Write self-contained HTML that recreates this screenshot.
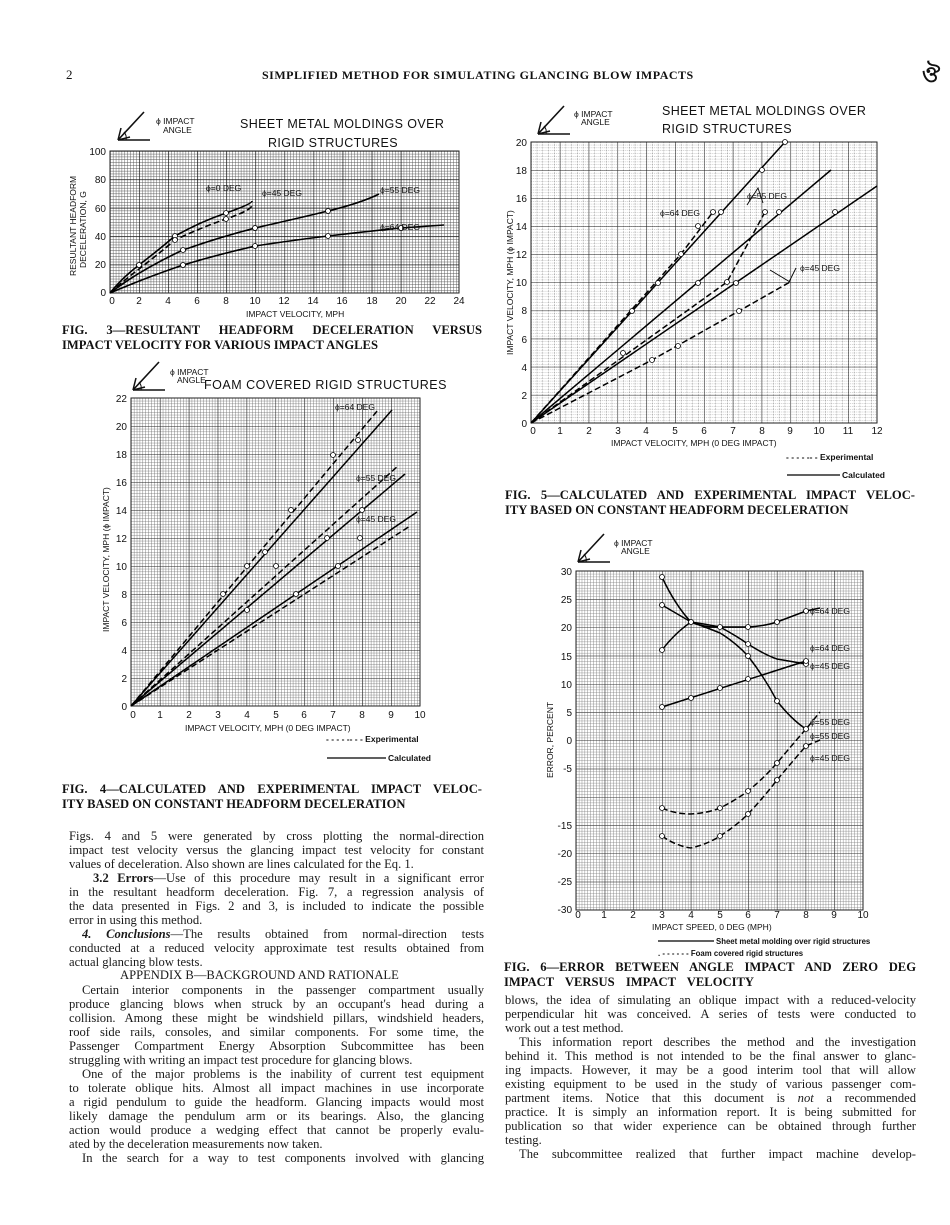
<!DOCTYPE html>
<html><head><meta charset="utf-8">
<style>
html,body{margin:0;padding:0;background:#fff;}
#pg{position:relative;width:950px;height:1225px;overflow:hidden;background:#fff;}
svg{position:absolute;left:0;top:0;}
.t{position:absolute;font-family:"Liberation Serif",serif;font-size:12.6px;line-height:14px;color:#1a1a1a;white-space:nowrap;}
.j{text-align:justify;text-align-last:justify;white-space:normal;height:14px;overflow:hidden;}
.cap{position:absolute;font-family:"Liberation Serif",serif;font-weight:bold;font-size:12.6px;color:#111;white-space:nowrap;text-align:justify;text-align-last:justify;height:15px;}
</style></head><body><div id="pg">
<svg width="950" height="1225" viewBox="0 0 950 1225" font-family="Liberation Sans, sans-serif" fill="#111">
<defs>
<pattern id="p3" x="110" y="151" width="2.908" height="2.84" patternUnits="userSpaceOnUse"><path d="M0 0H2.908M0 0V2.84" stroke="#555" stroke-width="0.9" fill="none"/></pattern>
<pattern id="P3" x="110" y="151" width="29.08" height="28.4" patternUnits="userSpaceOnUse"><path d="M0 0H29.08M0 0V28.4" stroke="#111" stroke-width="1.2" fill="none"/></pattern>
<pattern id="p5" x="531" y="142" width="5.766" height="2.81" patternUnits="userSpaceOnUse"><path d="M0 0H5.766M0 0V2.81" stroke="#777" stroke-width="0.8" stroke-dasharray="1 1" fill="none"/></pattern>
<pattern id="P5" x="531" y="142" width="28.83" height="28.1" patternUnits="userSpaceOnUse"><path d="M0 0H28.83M0 0V28.1" stroke="#222" stroke-width="1.1" fill="none"/></pattern>
<pattern id="p4" x="131" y="398" width="2.89" height="2.8" patternUnits="userSpaceOnUse"><path d="M0 0H2.89M0 0V2.8" stroke="#666" stroke-width="0.8" fill="none"/></pattern>
<pattern id="P4" x="131" y="398" width="28.9" height="28" patternUnits="userSpaceOnUse"><path d="M0 0H28.9M0 0V28" stroke="#222" stroke-width="1.1" fill="none"/></pattern>
<pattern id="p6" x="576" y="571" width="2.87" height="2.825" patternUnits="userSpaceOnUse"><path d="M0 0H2.87M0 0V2.825" stroke="#777" stroke-width="0.8" fill="none"/></pattern>
<pattern id="P6" x="576" y="571" width="28.7" height="28.25" patternUnits="userSpaceOnUse"><path d="M0 0H28.7M0 0V28.25" stroke="#333" stroke-width="1.1" fill="none"/></pattern>
<g id="icon"><path d="M0 30 L32 30 M0 30 L26 2" stroke="#111" stroke-width="1.6" fill="none"/><path d="M0 30 L3 18 M0 30 L12 27" stroke="#111" stroke-width="1.5"/><path d="M8 30 A9 9 0 0 0 6 22" stroke="#111" fill="none"/></g>
</defs>

<text x="66" y="79" font-family="Liberation Serif, serif" font-size="13">2</text>
<text x="262" y="79" font-family="Liberation Serif, serif" font-size="12" font-weight="bold" letter-spacing="0.5">SIMPLIFIED METHOD FOR SIMULATING GLANCING BLOW IMPACTS</text>
<text x="922" y="82" font-size="22" font-weight="bold">ঔ</text>

<!-- FIG 3 -->
<use href="#icon" x="118" y="110"/>
<text x="156" y="124" font-size="8.5">ϕ IMPACT</text><text x="163" y="133" font-size="8.5">ANGLE</text>
<text x="240" y="128" font-size="12.5" letter-spacing="0.4">SHEET METAL MOLDINGS OVER</text>
<text x="268" y="147" font-size="12.5" letter-spacing="0.4">RIGID STRUCTURES</text>
<rect x="110" y="151" width="349" height="142" fill="url(#p3)"/>
<rect x="110" y="151" width="349" height="142" fill="url(#P3)" stroke="#222"/>
<g font-size="10" text-anchor="end"><text x="106" y="155">100</text><text x="106" y="183">80</text><text x="106" y="212">60</text><text x="106" y="240">40</text><text x="106" y="268">20</text><text x="106" y="296">0</text></g>
<g font-size="10" text-anchor="middle"><text x="112" y="304">0</text><text x="139" y="304">2</text><text x="168" y="304">4</text><text x="197" y="304">6</text><text x="226" y="304">8</text><text x="255" y="304">10</text><text x="284" y="304">12</text><text x="313" y="304">14</text><text x="342" y="304">16</text><text x="372" y="304">18</text><text x="401" y="304">20</text><text x="430" y="304">22</text><text x="459" y="304">24</text></g>
<text x="246" y="317" font-size="8.5">IMPACT VELOCITY, MPH</text>
<text transform="translate(76,276) rotate(-90)" font-size="8.5">RESULTANT HEADFORM</text>
<text transform="translate(86,268) rotate(-90)" font-size="8.5">DECELERATION, G</text>
<g fill="none" stroke="#000" stroke-width="1.6">
<path d="M110 293 Q122 278 139 265 T175 236 Q200 222 226 213 T252 201"/>
<path d="M110 293 Q122 282 139 269 T175 240 Q200 228 226 219 T252 205" stroke-dasharray="6 3"/>
<path d="M110 293 Q140 270 183 250 Q220 237 255 228 Q295 219 328 211 T379 194"/>
<path d="M110 293 Q145 278 183 265 Q220 254 255 246 Q295 240 328 236 Q370 231 401 228 L444 225"/>
</g>
<g fill="#fff" stroke="#000" stroke-width="0.8"><circle cx="139" cy="265" r="2.5"/><circle cx="175" cy="236" r="2.5"/><circle cx="226" cy="213" r="2.5"/><circle cx="175" cy="240" r="2.5"/><circle cx="226" cy="219" r="2.5"/><circle cx="255" cy="228" r="2.5"/><circle cx="328" cy="211" r="2.5"/><circle cx="183" cy="250" r="2.5"/><circle cx="183" cy="265" r="2.5"/><circle cx="255" cy="246" r="2.5"/><circle cx="328" cy="236" r="2.5"/><circle cx="401" cy="228" r="2.5"/></g>
<g font-size="8.5"><text x="206" y="191">ϕ=0 DEG</text><text x="262" y="196">ϕ=45 DEG</text><text x="380" y="193">ϕ=55 DEG</text><text x="380" y="230">ϕ=64 DEG</text></g>

<!-- FIG 4 -->
<use href="#icon" x="133" y="360"/>
<text x="170" y="375" font-size="8.5">ϕ IMPACT</text><text x="177" y="383" font-size="8.5">ANGLE</text>
<text x="204" y="389" font-size="12.5" letter-spacing="0.5">FOAM COVERED RIGID STRUCTURES</text>
<rect x="131" y="398" width="289" height="308" fill="url(#p4)"/>
<rect x="131" y="398" width="289" height="308" fill="url(#P4)" stroke="#222"/>
<g font-size="10" text-anchor="end"><text x="127" y="402">22</text><text x="127" y="430">20</text><text x="127" y="458">18</text><text x="127" y="486">16</text><text x="127" y="514">14</text><text x="127" y="542">12</text><text x="127" y="570">10</text><text x="127" y="598">8</text><text x="127" y="626">6</text><text x="127" y="654">4</text><text x="127" y="682">2</text><text x="127" y="710">0</text></g>
<g font-size="10" text-anchor="middle"><text x="133" y="718">0</text><text x="160" y="718">1</text><text x="189" y="718">2</text><text x="218" y="718">3</text><text x="247" y="718">4</text><text x="276" y="718">5</text><text x="304" y="718">6</text><text x="333" y="718">7</text><text x="362" y="718">8</text><text x="391" y="718">9</text><text x="420" y="718">10</text></g>
<text x="185" y="731" font-size="8.5">IMPACT VELOCITY, MPH (0 DEG IMPACT)</text>
<text transform="translate(109,632) rotate(-90)" font-size="8.5">IMPACT VELOCITY, MPH (ϕ IMPACT)</text>
<g fill="none" stroke="#000" stroke-width="1.5">
<path d="M131 706 L392 410"/><path d="M131 706 L378 410" stroke-dasharray="6 3"/>
<path d="M131 706 L405 474"/><path d="M131 706 L398 466" stroke-dasharray="6 3"/>
<path d="M131 706 L417 512"/><path d="M131 706 L410 526" stroke-dasharray="6 3"/>
</g>
<g fill="#fff" stroke="#000" stroke-width="0.8"><circle cx="247" cy="566" r="2.5"/><circle cx="265" cy="552" r="2.5"/><circle cx="291" cy="510" r="2.5"/><circle cx="333" cy="455" r="2.5"/><circle cx="358" cy="440" r="2.5"/><circle cx="223" cy="594" r="2.5"/><circle cx="276" cy="566" r="2.5"/><circle cx="327" cy="538" r="2.5"/><circle cx="362" cy="510" r="2.5"/><circle cx="247" cy="610" r="2.5"/><circle cx="296" cy="594" r="2.5"/><circle cx="338" cy="566" r="2.5"/><circle cx="360" cy="538" r="2.5"/></g>
<g font-size="8.5"><text x="335" y="410">ϕ=64 DEG</text><text x="356" y="481">ϕ=55 DEG</text><text x="356" y="522">ϕ=45 DEG</text></g>
<text x="326" y="742" font-size="8.5" font-weight="bold">- - - - -- - - Experimental</text>
<path d="M327 758 H386" stroke="#000" stroke-width="1.2"/><text x="388" y="761" font-size="8.5" font-weight="bold">Calculated</text>

<!-- FIG 5 -->
<use href="#icon" x="538" y="104"/>
<text x="574" y="117" font-size="8.5">ϕ IMPACT</text><text x="581" y="125" font-size="8.5">ANGLE</text>
<text x="662" y="115" font-size="12.5" letter-spacing="0.4">SHEET METAL MOLDINGS OVER</text>
<text x="662" y="133" font-size="12.5" letter-spacing="0.4">RIGID STRUCTURES</text>
<rect x="531" y="142" width="346" height="281" fill="url(#p5)"/>
<rect x="531" y="142" width="346" height="281" fill="url(#P5)" stroke="#222"/>
<g font-size="10" text-anchor="end"><text x="527" y="146">20</text><text x="527" y="174">18</text><text x="527" y="202">16</text><text x="527" y="230">14</text><text x="527" y="258">12</text><text x="527" y="286">10</text><text x="527" y="314">8</text><text x="527" y="343">6</text><text x="527" y="371">4</text><text x="527" y="399">2</text><text x="527" y="427">0</text></g>
<g font-size="10" text-anchor="middle"><text x="533" y="434">0</text><text x="560" y="434">1</text><text x="589" y="434">2</text><text x="618" y="434">3</text><text x="646" y="434">4</text><text x="675" y="434">5</text><text x="704" y="434">6</text><text x="733" y="434">7</text><text x="762" y="434">8</text><text x="790" y="434">9</text><text x="819" y="434">10</text><text x="848" y="434">11</text><text x="877" y="434">12</text></g>
<text x="611" y="446" font-size="8.5">IMPACT VELOCITY, MPH (0 DEG IMPACT)</text>
<text transform="translate(513,355) rotate(-90)" font-size="8.5">IMPACT VELOCITY, MPH (ϕ IMPACT)</text>
<g fill="none" stroke="#000" stroke-width="1.5">
<path d="M531 423 L785 142"/><path d="M531 423 L831 170"/><path d="M531 423 L877 186"/>
<path d="M531 423 L681 254 L713 212" stroke-dasharray="6 3"/>
<path d="M531 423 L727 282 L765 212" stroke-dasharray="6 3"/>
<path d="M531 423 L652 360 L739 311 L790 282" stroke-dasharray="6 3"/>
<path d="M747 205 L758 188 L763 203 M789 282 L796 268 M790 282 L770 270" stroke-width="0.9"/>
</g>
<g fill="#fff" stroke="#000" stroke-width="0.8"><circle cx="785" cy="142" r="2.5"/><circle cx="762" cy="170" r="2.5"/><circle cx="721" cy="212" r="2.5"/><circle cx="632" cy="311" r="2.5"/><circle cx="658" cy="283" r="2.5"/><circle cx="698" cy="226" r="2.5"/><circle cx="713" cy="212" r="2.5"/><circle cx="681" cy="254" r="2.5"/><circle cx="698" cy="283" r="2.5"/><circle cx="727" cy="282" r="2.5"/><circle cx="765" cy="212" r="2.5"/><circle cx="779" cy="212" r="2.5"/><circle cx="835" cy="212" r="2.5"/><circle cx="736" cy="283" r="2.5"/><circle cx="623" cy="353" r="2.5"/><circle cx="652" cy="360" r="2.5"/><circle cx="678" cy="346" r="2.5"/><circle cx="739" cy="311" r="2.5"/></g>
<g font-size="8.5"><text x="660" y="216">ϕ=64 DEG</text><text x="747" y="199">ϕ=55 DEG</text><text x="800" y="271">ϕ=45 DEG</text></g>
<text x="786" y="460" font-size="8.5" font-weight="bold">- - - - -- - Experimental</text>
<path d="M787 475 H840" stroke="#000" stroke-width="1.2"/><text x="842" y="478" font-size="8.5" font-weight="bold">Calculated</text>

<!-- FIG 6 -->
<use href="#icon" x="578" y="532"/>
<text x="614" y="546" font-size="8.5">ϕ IMPACT</text><text x="621" y="554" font-size="8.5">ANGLE</text>
<rect x="576" y="571" width="287" height="339" fill="url(#p6)"/>
<rect x="576" y="571" width="287" height="339" fill="url(#P6)" stroke="#222"/>
<g font-size="10" text-anchor="end"><text x="572" y="575">30</text><text x="572" y="603">25</text><text x="572" y="631">20</text><text x="572" y="660">15</text><text x="572" y="688">10</text><text x="572" y="716">5</text><text x="572" y="744">0</text><text x="572" y="772">-5</text><text x="572" y="829">-15</text><text x="572" y="857">-20</text><text x="572" y="885">-25</text><text x="572" y="913">-30</text></g>
<g font-size="10" text-anchor="middle"><text x="578" y="918">0</text><text x="604" y="918">1</text><text x="633" y="918">2</text><text x="662" y="918">3</text><text x="691" y="918">4</text><text x="720" y="918">5</text><text x="748" y="918">6</text><text x="777" y="918">7</text><text x="806" y="918">8</text><text x="834" y="918">9</text><text x="863" y="918">10</text></g>
<text x="652" y="930" font-size="8.5">IMPACT SPEED, 0 DEG (MPH)</text>
<text transform="translate(553,778) rotate(-90)" font-size="8.5">ERROR, PERCENT</text>
<g fill="none" stroke="#000" stroke-width="1.5">
<path d="M662 577 Q675 605 691 622 Q705 628 720 627 L748 627 Q765 626 777 622 L806 611 L820 608"/>
<path d="M662 605 L691 622 Q708 628 720 633 Q735 642 748 656 Q765 678 777 701 Q792 720 806 729"/>
<path d="M662 650 Q675 633 691 622 Q705 624 720 627 Q735 635 748 644 Q765 655 777 659 L806 664"/>
<path d="M662 707 L806 661"/>
<path d="M662 808 Q675 814 691 814 Q708 813 720 808 Q736 800 748 791 Q764 778 777 763 Q792 745 806 729 L820 712" stroke-dasharray="6 3"/>
<path d="M662 836 Q676 846 691 848 Q708 844 720 836 Q736 826 748 814 Q764 797 777 780 Q792 762 806 746 L820 740" stroke-dasharray="6 3"/>
</g>
<g fill="#fff" stroke="#000" stroke-width="0.8"><circle cx="662" cy="577" r="2.5"/><circle cx="691" cy="622" r="2.5"/><circle cx="720" cy="627" r="2.5"/><circle cx="748" cy="627" r="2.5"/><circle cx="777" cy="622" r="2.5"/><circle cx="806" cy="611" r="2.5"/><circle cx="662" cy="605" r="2.5"/><circle cx="748" cy="656" r="2.5"/><circle cx="777" cy="701" r="2.5"/><circle cx="662" cy="650" r="2.5"/><circle cx="748" cy="644" r="2.5"/><circle cx="806" cy="664" r="2.5"/><circle cx="662" cy="707" r="2.5"/><circle cx="691" cy="698" r="2.5"/><circle cx="720" cy="688" r="2.5"/><circle cx="748" cy="679" r="2.5"/><circle cx="806" cy="661" r="2.5"/><circle cx="662" cy="808" r="2.5"/><circle cx="720" cy="808" r="2.5"/><circle cx="748" cy="791" r="2.5"/><circle cx="777" cy="763" r="2.5"/><circle cx="806" cy="729" r="2.5"/><circle cx="662" cy="836" r="2.5"/><circle cx="720" cy="836" r="2.5"/><circle cx="748" cy="814" r="2.5"/><circle cx="777" cy="780" r="2.5"/><circle cx="806" cy="746" r="2.5"/></g>
<g font-size="8.5"><text x="810" y="614">ϕ=64 DEG</text><text x="810" y="651">ϕ=64 DEG</text><text x="810" y="669">ϕ=45 DEG</text><text x="810" y="725">ϕ=55 DEG</text><text x="810" y="739">ϕ=55 DEG</text><text x="810" y="761">ϕ=45 DEG</text></g>
<path d="M658 941 H714" stroke="#000" stroke-width="1.2"/><text x="716" y="944" font-size="7.8" font-weight="bold">Sheet metal molding over rigid structures</text>
<text x="658" y="956" font-size="7.8" font-weight="bold">. - - - - - - Foam covered rigid structures</text>
</svg>

<div class="cap" style="left:62px;top:323px;width:420px;">FIG. 3—RESULTANT HEADFORM DECELERATION VERSUS</div>
<div class="cap" style="left:62px;top:338px;width:300px;text-align-last:left;">IMPACT VELOCITY FOR VARIOUS IMPACT ANGLES</div>
<div class="cap" style="left:62px;top:782px;width:420px;">FIG. 4—CALCULATED AND EXPERIMENTAL IMPACT VELOC-</div>
<div class="cap" style="left:62px;top:797px;width:400px;text-align-last:left;">ITY BASED ON CONSTANT HEADFORM DECELERATION</div>
<div class="cap" style="left:505px;top:488px;width:410px;">FIG. 5—CALCULATED AND EXPERIMENTAL IMPACT VELOC-</div>
<div class="cap" style="left:505px;top:503px;width:400px;text-align-last:left;">ITY BASED ON CONSTANT HEADFORM DECELERATION</div>
<div class="cap" style="left:504px;top:960px;width:412px;">FIG. 6—ERROR BETWEEN ANGLE IMPACT AND ZERO DEG</div>
<div class="cap" style="left:504px;top:975px;width:250px;">IMPACT VERSUS IMPACT VELOCITY</div>

<div class="t j" style="left:69px;top:829px;width:415px;">Figs. 4 and 5 were generated by cross plotting the normal-direction</div>
<div class="t j" style="left:69px;top:843px;width:415px;">impact test velocity versus the glancing impact test velocity for constant</div>
<div class="t" style="left:69px;top:857px;">values of deceleration. Also shown are lines calculated for the Eq. 1.</div>
<div class="t j" style="left:93px;top:871px;width:391px;"><b>3.2 Errors</b>—Use of this procedure may result in a significant error</div>
<div class="t j" style="left:69px;top:885px;width:415px;">in the resultant headform deceleration. Fig. 7, a regression analysis of</div>
<div class="t j" style="left:69px;top:899px;width:415px;">the data presented in Figs. 2 and 3, is included to indicate the possible</div>
<div class="t" style="left:69px;top:913px;">error in using this method.</div>
<div class="t j" style="left:82px;top:927px;width:402px;"><b><i>4. Conclusions</i></b>—The results obtained from normal-direction tests</div>
<div class="t j" style="left:69px;top:941px;width:415px;">conducted at a reduced velocity approximate test results obtained from</div>
<div class="t" style="left:69px;top:955px;">actual glancing blow tests.</div>
<div class="t" style="left:120px;top:968px;">APPENDIX B—BACKGROUND AND RATIONALE</div>
<div class="t j" style="left:82px;top:983px;width:402px;">Certain interior components in the passenger compartment usually</div>
<div class="t j" style="left:69px;top:997px;width:415px;">produce glancing blows when struck by an occupant's head during a</div>
<div class="t j" style="left:69px;top:1011px;width:415px;">collision. Among these might be windshield pillars, windshield headers,</div>
<div class="t j" style="left:69px;top:1025px;width:415px;">roof side rails, consoles, and similar components. For some time, the</div>
<div class="t j" style="left:69px;top:1039px;width:415px;">Passenger Compartment Energy Absorption Subcommittee has been</div>
<div class="t" style="left:69px;top:1053px;">struggling with writing an impact test procedure for glancing blows.</div>
<div class="t j" style="left:82px;top:1067px;width:402px;">One of the major problems is the inability of current test equipment</div>
<div class="t j" style="left:69px;top:1081px;width:415px;">to tolerate oblique hits. Almost all impact machines in use incorporate</div>
<div class="t j" style="left:69px;top:1095px;width:415px;">a rigid pendulum to guide the headform. Glancing impacts would most</div>
<div class="t j" style="left:69px;top:1109px;width:415px;">likely damage the pendulum arm or its bearings. Also, the glancing</div>
<div class="t j" style="left:69px;top:1123px;width:415px;">action would produce a wedging effect that cannot be properly evalu-</div>
<div class="t" style="left:69px;top:1137px;">ated by the deceleration measurements now taken.</div>
<div class="t j" style="left:82px;top:1151px;width:402px;">In the search for a way to test components involved with glancing</div>

<div class="t j" style="left:505px;top:993px;width:411px;">blows, the idea of simulating an oblique impact with a reduced-velocity</div>
<div class="t j" style="left:505px;top:1007px;width:411px;">perpendicular hit was conceived. A series of tests were conducted to</div>
<div class="t" style="left:505px;top:1021px;">work out a test method.</div>
<div class="t j" style="left:519px;top:1035px;width:397px;">This information report describes the method and the investigation</div>
<div class="t j" style="left:505px;top:1049px;width:411px;">behind it. This method is not intended to be the final answer to glanc-</div>
<div class="t j" style="left:505px;top:1063px;width:411px;">ing impacts. However, it may be a good interim tool that will allow</div>
<div class="t j" style="left:505px;top:1077px;width:411px;">existing equipment to be used in the study of various passenger com-</div>
<div class="t j" style="left:505px;top:1091px;width:411px;">partment items. Notice that this document is <i>not</i> a recommended</div>
<div class="t j" style="left:505px;top:1105px;width:411px;">practice. It is simply an information report. It is being submitted for</div>
<div class="t j" style="left:505px;top:1119px;width:411px;">publication so that wider experience can be obtained through further</div>
<div class="t" style="left:505px;top:1133px;">testing.</div>
<div class="t j" style="left:519px;top:1147px;width:397px;">The subcommittee realized that further impact machine develop-</div>
</div></body></html>
